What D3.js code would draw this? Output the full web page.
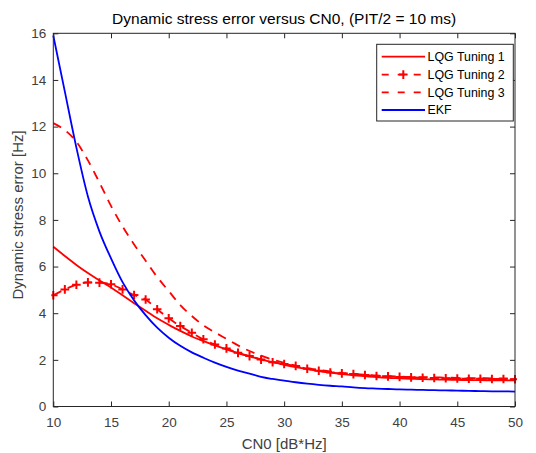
<!DOCTYPE html>
<html>
<head>
<meta charset="utf-8">
<script src="https://cdn.jsdelivr.net/npm/d3@7"></script>
<style>
  html, body { margin: 0; padding: 0; background: #ffffff; }
  svg { display: block; font-family: "Liberation Sans", Arial, Helvetica, sans-serif; }
</style>
</head>
<body>
<svg id="chart" width="536" height="453"></svg>
<script>
// CN0 sweep in dB-Hz (one sample per dB)
const cn0 = d3.range(10, 51);

// Dynamic stress error [Hz] for each tracking design
const lqgTuning1 = [6.85, 6.45, 6.07, 5.72, 5.40, 5.10, 4.77, 4.43, 4.10, 3.78,
  3.50, 3.24, 3.00, 2.80, 2.62, 2.45, 2.29, 2.15, 2.02, 1.90,
  1.79, 1.69, 1.60, 1.52, 1.45, 1.39, 1.34, 1.30, 1.26, 1.23,
  1.21, 1.19, 1.17, 1.16, 1.15, 1.14, 1.13, 1.13, 1.12, 1.12, 1.12];

const lqgTuning2 = [4.77, 5.02, 5.22, 5.32, 5.31, 5.24, 5.02, 4.78, 4.59, 4.17,
  3.78, 3.45, 3.16, 2.88, 2.66, 2.49, 2.30, 2.16, 2.01, 1.90,
  1.82, 1.74, 1.62, 1.53, 1.46, 1.42, 1.39, 1.35, 1.31, 1.29,
  1.27, 1.25, 1.23, 1.22, 1.21, 1.20, 1.19, 1.19, 1.18, 1.18, 1.17];

const lqgTuning3 = [12.15, 11.85, 11.35, 10.55, 9.60, 8.60, 7.72, 6.95, 6.25, 5.55,
  4.95, 4.35, 3.88, 3.48, 3.18, 2.90, 2.62, 2.38, 2.18, 2.01,
  1.87, 1.75, 1.65, 1.57, 1.50, 1.44, 1.40, 1.36, 1.33, 1.30,
  1.28, 1.27, 1.26, 1.25, 1.24, 1.23, 1.22, 1.22, 1.21, 1.21, 1.20];

const ekf = [15.90, 13.50, 11.10, 9.00, 7.50, 6.35, 5.33, 4.55, 3.92, 3.38,
  2.95, 2.60, 2.32, 2.09, 1.88, 1.70, 1.54, 1.41, 1.27, 1.18,
  1.11, 1.04, 0.98, 0.93, 0.89, 0.86, 0.82, 0.79, 0.77, 0.75,
  0.73, 0.72, 0.71, 0.70, 0.69, 0.68, 0.67, 0.66, 0.65, 0.65, 0.64];

const xTicks = [10, 15, 20, 25, 30, 35, 40, 45, 50];
const yTicks = [0, 2, 4, 6, 8, 10, 12, 14, 16];

const titleText = "Dynamic stress error versus CN0, (PIT/2 = 10 ms)";
const xLabelText = "CN0 [dB*Hz]";
const yLabelText = "Dynamic stress error [Hz]";

const seriesNames = ["LQG Tuning 1", "LQG Tuning 2", "LQG Tuning 3", "EKF"];
const seriesValues = [lqgTuning1, lqgTuning2, lqgTuning3, ekf];

// ---- drawing ----
const svg = d3.select("#chart");
const W = 536, H = 453;
const margin = { left: 53.3, right: W - 515, top: 33.3, bottom: H - 406.5 };
const axisColor = "#262626";
const tickTextColor = "#404040";

const x = d3.scaleLinear().domain([10, 50]).range([margin.left, W - margin.right]);
const y = d3.scaleLinear().domain([0, 16]).range([H - margin.bottom, margin.top]);

const styles = [
  { color: "#ff0000", dash: null, marker: false },
  { color: "#ff0000", dash: "9,7", marker: true },
  { color: "#ff0000", dash: "9,7", marker: false },
  { color: "#0000ff", dash: null, marker: false }
];

svg.append("rect").attr("x", 0).attr("y", 0).attr("width", W).attr("height", H).attr("fill", "#ffffff");

const plot = svg.append("g");

const clipId = "plotclip";
svg.append("defs").append("clipPath").attr("id", clipId)
  .append("rect")
  .attr("x", x(10) - 2).attr("y", y(16) - 2)
  .attr("width", x(50) - x(10) + 4).attr("height", y(0) - y(16) + 4);

const line = d3.line()
  .x((d, i) => x(cn0[i]))
  .y(d => y(d))
  .curve(d3.curveMonotoneX);

const lines = plot.append("g").attr("clip-path", `url(#${clipId})`);

// draw order: tuning 1, tuning 2, tuning 3, EKF
seriesValues.forEach((vals, k) => {
  const s = styles[k];
  lines.append("path")
    .datum(vals)
    .attr("d", line)
    .attr("fill", "none")
    .attr("stroke", s.color)
    .attr("stroke-width", 1.8)
    .attr("stroke-dasharray", s.dash)
    .attr("stroke-linejoin", "round");
  if (s.marker) {
    const ms = 4.3;
    lines.append("g").selectAll("path")
      .data(vals)
      .join("path")
      .attr("d", (d, i) => {
        const cx = x(cn0[i]), cy = y(d);
        return `M${cx - ms},${cy}H${cx + ms}M${cx},${cy - ms}V${cy + ms}`;
      })
      .attr("stroke", s.color)
      .attr("stroke-width", 2)
      .attr("fill", "none");
  }
});

// axes with inward ticks on all four sides
const tickLen = 5;
const xAxisB = d3.axisBottom(x).tickValues(xTicks).tickSizeInner(-tickLen).tickSizeOuter(0).tickPadding(11);
const xAxisT = d3.axisTop(x).tickValues(xTicks).tickSizeInner(-tickLen).tickSizeOuter(0).tickFormat("");
const yAxisL = d3.axisLeft(y).tickValues(yTicks).tickSizeInner(-tickLen).tickSizeOuter(0).tickPadding(7);
const yAxisR = d3.axisRight(y).tickValues(yTicks).tickSizeInner(-tickLen).tickSizeOuter(0).tickFormat("");

function styleAxis(g) {
  g.select(".domain").remove();
  g.selectAll(".tick line").attr("stroke", axisColor).attr("stroke-width", 1);
  g.selectAll(".tick text").attr("fill", tickTextColor).attr("font-size", 13.5)
    .attr("font-family", "Liberation Sans, Arial, sans-serif");
}

svg.append("g").attr("transform", `translate(0,${y(0)})`).call(xAxisB).call(styleAxis)
  .selectAll(".tick text").attr("dy", "0.71em");
svg.append("g").attr("transform", `translate(0,${y(16)})`).call(xAxisT).call(styleAxis);
svg.append("g").attr("transform", `translate(${x(10)},0)`).call(yAxisL).call(styleAxis);
svg.append("g").attr("transform", `translate(${x(50)},0)`).call(yAxisR).call(styleAxis);

// axes box
svg.append("rect")
  .attr("x", x(10)).attr("y", y(16))
  .attr("width", x(50) - x(10)).attr("height", y(0) - y(16))
  .attr("fill", "none").attr("stroke", axisColor).attr("stroke-width", 1);

// title and labels
svg.append("text")
  .attr("x", (x(10) + x(50)) / 2).attr("y", 24)
  .attr("text-anchor", "middle").attr("font-size", 15.5).attr("fill", "#000000")
  .text(titleText);

svg.append("text")
  .attr("x", (x(10) + x(50)) / 2).attr("y", 449)
  .attr("text-anchor", "middle").attr("font-size", 15).attr("fill", tickTextColor)
  .text(xLabelText);

svg.append("text")
  .attr("transform", `translate(22.5,${(y(0) + y(16)) / 2 - 5}) rotate(-90)`)
  .attr("text-anchor", "middle").attr("font-size", 15).attr("fill", tickTextColor)
  .text(yLabelText);

// legend
const leg = svg.append("g");
const lx0 = 376.7, ly0 = 44.3, lw = 136.6, lh = 76.7;
leg.append("rect")
  .attr("x", lx0).attr("y", ly0).attr("width", lw).attr("height", lh)
  .attr("fill", "#ffffff").attr("stroke", axisColor).attr("stroke-width", 1);

const rowY = [56.7, 74.6, 92.3, 110];
seriesNames.forEach((name, k) => {
  const s = styles[k];
  const yy = rowY[k];
  leg.append("line")
    .attr("x1", 381.7).attr("x2", 425).attr("y1", yy).attr("y2", yy)
    .attr("stroke", s.color).attr("stroke-width", 1.8)
    .attr("stroke-dasharray", s.dash ? "7,9" : null);
  if (s.marker) {
    const cx = 403.3, ms = 4.3;
    leg.append("path")
      .attr("d", `M${cx - ms},${yy}H${cx + ms}M${cx},${yy - ms}V${yy + ms}`)
      .attr("stroke", s.color).attr("stroke-width", 2);
  }
  leg.append("text")
    .attr("x", 427.5).attr("y", yy).attr("dy", "0.35em")
    .attr("font-size", 12.4).attr("fill", "#000000")
    .text(name);
});
</script>
</body>
</html>
